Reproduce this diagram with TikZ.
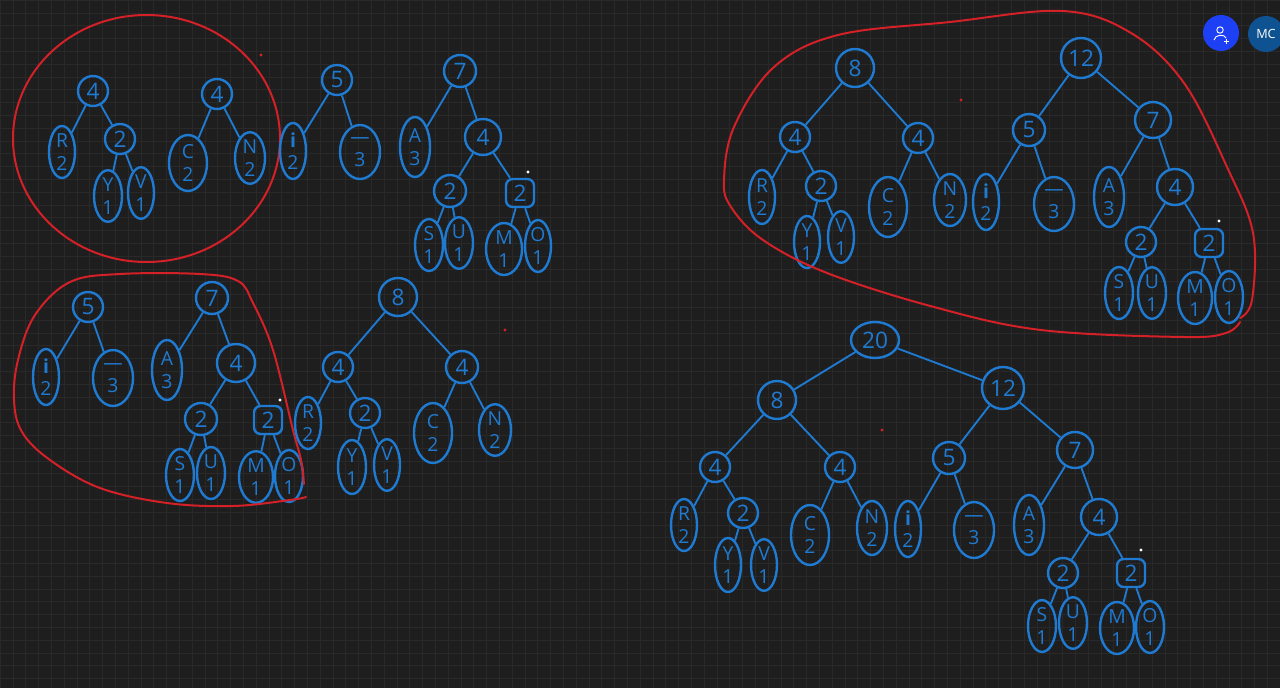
\documentclass[tikz,border=0pt]{standalone}
\usepackage{fontspec}
\setmainfont{Open Sans}
\usetikzlibrary{shapes.geometric}
\definecolor{bg}{HTML}{1E1E1E}
\definecolor{gridc}{HTML}{292929}
\definecolor{inkblue}{HTML}{1F7AD1}
\definecolor{hullred}{HTML}{D42027}
\definecolor{badgeblue}{HTML}{1E40F5}
\definecolor{mcblue}{HTML}{0F5291}
\tikzset{
  ink/.style={draw=inkblue, line width=1.8pt, text=inkblue},
  nd/.style={ink, circle, inner sep=0pt, minimum size=#1*0.75pt, font=\fontsize{17}{17}\selectfont},
  nd/.default=30,
  sq/.style={ink, rectangle, rounded corners=5pt, inner sep=0pt, minimum size=28*0.75pt, font=\fontsize{17}{17}\selectfont},
  lf/.style 2 args={ink, ellipse, inner sep=0pt, minimum width=#1*0.75pt, minimum height=#2*0.75pt, align=center, font=\fontsize{14.5}{17}\selectfont},
  ed/.style={draw=inkblue, line width=1.4pt},
  hull/.style={draw=hullred, line width=1.5pt, line join=round, line cap=round},
  speck/.style={circle, inner sep=0pt, minimum size=2.5pt},
}
\begin{document}
\begin{tikzpicture}[x=0.75pt, y=-0.75pt]
\useasboundingbox (0,0) rectangle (1280,688);
\fill[bg] (0,0) rectangle (1280,688);
\foreach \gx in {0,12.8,...,1280} \draw[gridc, line width=0.4pt] (\gx,0) -- (\gx,688);
\foreach \gy in {0,12.8,...,688} \draw[gridc, line width=0.4pt] (0,\gy) -- (1280,\gy);

% ---------- Tree A (top-left, circled) ----------
\node[nd] (a4) at (93,91) {4};
\node[lf={26}{52}] (aR) at (62,152) {R\\2};
\node[nd] (a2) at (120,139) {2};
\node[lf={28}{48}] (aY) at (108,196) {Y\\1};
\node[lf={26}{42}] (aV) at (141,193) {V\\1};
\node[nd] (a4b) at (217,94) {4};
\node[lf={38}{56}] (aC) at (188,163) {C\\2};
\node[lf={30}{46}] (aN) at (250,158) {N\\2};
\draw[ed] (a4) -- (aR); \draw[ed] (a4) -- (a2);
\draw[ed] (a2) -- (aY); \draw[ed] (a2) -- (aV);
\draw[ed] (a4b) -- (aC); \draw[ed] (a4b) -- (aN);
\draw[hull] (146.5,138.5) ellipse [x radius=133.5, y radius=123.5];

% ---------- Tree B (5) ----------
\node[nd] (b5) at (337,80) {5};
\node[lf={26}{56}] (bI) at (293,151) {\bfseries i\\2};
\node[lf={40}{54}] (bS) at (360,152) {—\\3};
\draw[ed] (b5) -- (bI); \draw[ed] (b5) -- (bS);

% ---------- Tree C (7) ----------
\node[nd=32] (c7) at (460,71) {7};
\node[lf={30}{60}] (cA) at (415,147) {A\\3};
\node[nd=36] (c4) at (483,137) {4};
\node[nd=32] (c2) at (450,191) {2};
\node[sq] (c2b) at (520,193) {2};
\node[lf={28}{50}] (cS) at (429,245) {S\\1};
\node[lf={28}{50}] (cU) at (459,243) {U\\1};
\node[lf={36}{52}] (cM) at (504,249) {M\\1};
\node[lf={26}{48}] (cO) at (538,246) {O\\1};
\draw[ed] (c7) -- (cA); \draw[ed] (c7) -- (c4);
\draw[ed] (c4) -- (c2); \draw[ed] (c4) -- (c2b);
\draw[ed] (c2) -- (cS); \draw[ed] (c2) -- (cU);
\draw[ed] (c2b) -- (cM); \draw[ed] (c2b) -- (cO);

% ---------- Tree G (bottom-left, enclosed) ----------
\node[nd] (g5) at (88,307) {5};
\node[lf={26}{56}] (gI) at (46,377) {\bfseries i\\2};
\node[lf={40}{56}] (gS) at (113,378) {—\\3};
\node[nd=32] (g7) at (212,298) {7};
\node[lf={30}{60}] (gA) at (167,370) {A\\3};
\node[nd=38] (g4) at (236,363) {4};
\node[nd=32] (g2) at (201,419) {2};
\node[sq] (g2b) at (268,420) {2};
\node[lf={28}{52}] (gSs) at (180,475) {S\\1};
\node[lf={28}{52}] (gU) at (211,473) {U\\1};
\node[lf={34}{50}] (gM) at (256,477) {M\\1};
\node[lf={28}{50}] (gO) at (289,476) {O\\1};
\draw[ed] (g5) -- (gI); \draw[ed] (g5) -- (gS);
\draw[ed] (g7) -- (gA); \draw[ed] (g7) -- (g4);
\draw[ed] (g4) -- (g2); \draw[ed] (g4) -- (g2b);
\draw[ed] (g2) -- (gSs); \draw[ed] (g2) -- (gU);
\draw[ed] (g2b) -- (gM); \draw[ed] (g2b) -- (gO);
\draw[hull] plot[smooth, tension=0.6] coordinates {(304,484) (301,460) (293,430) (273,350) (253,303) (238,281) (200,274) (120,274) (70,282) (35,315) (18,360) (14,400) (22,432) (50,460) (100,488) (167,503) (233,506) (290,500) (306,497)};

% ---------- Tree D (8, middle) ----------
\node[nd=38] (d8) at (398,297) {8};
\node[nd] (d4) at (338,367) {4};
\node[nd=32] (d4b) at (462,367) {4};
\node[lf={26}{52}] (dR) at (308,423) {R\\2};
\node[nd] (d2) at (365,413) {2};
\node[lf={28}{54}] (dY) at (352,467) {Y\\1};
\node[lf={26}{44}] (dV) at (387,465) {V\\1};
\node[lf={38}{60}] (dC) at (433,433) {C\\2};
\node[lf={32}{50}] (dN) at (495,430) {N\\2};
\draw[ed] (d8) -- (d4); \draw[ed] (d8) -- (d4b);
\draw[ed] (d4) -- (dR); \draw[ed] (d4) -- (d2);
\draw[ed] (d2) -- (dY); \draw[ed] (d2) -- (dV);
\draw[ed] (d4b) -- (dC); \draw[ed] (d4b) -- (dN);

% ---------- Tree E (8 + 12, top-right, enclosed) ----------
\node[nd=38] (e8) at (855,68) {8};
\node[nd] (e4) at (795,137) {4};
\node[lf={26}{54}] (eR) at (762,197) {R\\2};
\node[nd] (e2) at (821,186) {2};
\node[lf={26}{52}] (eY) at (807,242) {Y\\1};
\node[lf={26}{44}] (eV) at (841,237) {V\\1};
\node[nd] (e4b) at (918,138) {4};
\node[lf={38}{60}] (eC) at (888,207) {C\\2};
\node[lf={32}{52}] (eN) at (950,200) {N\\2};
\node[nd=40] (e12) at (1081,58) {12};
\node[nd=32] (e5) at (1029,130) {5};
\node[lf={26}{56}] (eI) at (986,202) {\bfseries i\\2};
\node[lf={40}{54}] (eS) at (1054,204) {—\\3};
\node[nd=36] (e7) at (1153,120) {7};
\node[lf={30}{60}] (eA) at (1109,197) {A\\3};
\node[nd=36] (e4c) at (1175,187) {4};
\node[nd] (e2b) at (1141,242) {2};
\node[sq] (e2c) at (1209,243) {2};
\node[lf={28}{52}] (eSs) at (1119,293) {S\\1};
\node[lf={28}{48}] (eU) at (1152,293) {U\\1};
\node[lf={34}{52}] (eM) at (1195,298) {M\\1};
\node[lf={28}{48}] (eO) at (1229,297) {O\\1};
\draw[ed] (e8) -- (e4); \draw[ed] (e8) -- (e4b);
\draw[ed] (e4) -- (eR); \draw[ed] (e4) -- (e2);
\draw[ed] (e2) -- (eY); \draw[ed] (e2) -- (eV);
\draw[ed] (e4b) -- (eC); \draw[ed] (e4b) -- (eN);
\draw[ed] (e12) -- (e5); \draw[ed] (e12) -- (e7);
\draw[ed] (e5) -- (eI); \draw[ed] (e5) -- (eS);
\draw[ed] (e7) -- (eA); \draw[ed] (e7) -- (e4c);
\draw[ed] (e4c) -- (e2b); \draw[ed] (e4c) -- (e2c);
\draw[ed] (e2b) -- (eSs); \draw[ed] (e2b) -- (eU);
\draw[ed] (e2c) -- (eM); \draw[ed] (e2c) -- (eO);
\draw[hull] plot[smooth, tension=0.6] coordinates {(1240,318) (1252,300) (1253,233) (1227,167) (1184,83) (1131,33) (1063,11) (950,22) (838,35) (774,67) (734,127) (724,180) (731,207) (763,240) (827,273) (934,307) (1041,330) (1184,337) (1226,333) (1240,322)};

% ---------- Tree F (20, bottom-right) ----------
\node[nd, ellipse, minimum width=48*0.75pt, minimum height=36*0.75pt] (f20) at (875,340) {20};
\node[nd=38] (f8) at (777,400) {8};
\node[nd] (f4) at (715,467) {4};
\node[lf={26}{52}] (fR) at (684,525) {R\\2};
\node[nd] (f2) at (743,513) {2};
\node[lf={26}{54}] (fY) at (728,565) {Y\\1};
\node[lf={26}{44}] (fV) at (764,565) {V\\1};
\node[nd] (f4b) at (840,467) {4};
\node[lf={38}{60}] (fC) at (810,535) {C\\2};
\node[lf={30}{54}] (fN) at (872,528) {N\\2};
\node[nd=42] (f12) at (1003,388) {12};
\node[nd=32] (f5) at (949,458) {5};
\node[lf={26}{56}] (fI) at (908,529) {\bfseries i\\2};
\node[lf={40}{56}] (fS) at (974,530) {—\\3};
\node[nd=36] (f7) at (1075,450) {7};
\node[lf={30}{60}] (fA) at (1029,525) {A\\3};
\node[nd=36] (f4c) at (1099,517) {4};
\node[nd] (f2b) at (1063,573) {2};
\node[sq] (f2c) at (1131,573) {2};
\node[lf={28}{50}] (fSs) at (1042,626) {S\\1};
\node[lf={28}{48}] (fU) at (1073,623) {U\\1};
\node[lf={34}{52}] (fM) at (1117,628) {M\\1};
\node[lf={28}{50}] (fO) at (1150,627) {O\\1};
\draw[ed] (f20) -- (f8); \draw[ed] (f20) -- (f12);
\draw[ed] (f8) -- (f4); \draw[ed] (f8) -- (f4b);
\draw[ed] (f4) -- (fR); \draw[ed] (f4) -- (f2);
\draw[ed] (f2) -- (fY); \draw[ed] (f2) -- (fV);
\draw[ed] (f4b) -- (fC); \draw[ed] (f4b) -- (fN);
\draw[ed] (f12) -- (f5); \draw[ed] (f12) -- (f7);
\draw[ed] (f5) -- (fI); \draw[ed] (f5) -- (fS);
\draw[ed] (f7) -- (fA); \draw[ed] (f7) -- (f4c);
\draw[ed] (f4c) -- (f2b); \draw[ed] (f4c) -- (f2c);
\draw[ed] (f2b) -- (fSs); \draw[ed] (f2b) -- (fU);
\draw[ed] (f2c) -- (fM); \draw[ed] (f2c) -- (fO);

% ---------- specks ----------
\foreach \p in {(261,55),(961,100),(505,330),(882,430)} \node[speck, fill=hullred] at \p {};
\foreach \p in {(528,172),(280,400),(1219,221),(1141,550)} \node[speck, fill=white] at \p {};

% ---------- badges ----------
\node[circle, fill=badgeblue, minimum size=36*0.75pt, inner sep=0pt] (invite) at (1221,33) {};
\draw[white, line width=0.7pt] (1220,30) circle [radius=3.2];
\draw[white, line width=0.7pt] (1214,40) .. controls (1215,34) and (1225,34) .. (1226,38);
\draw[white, line width=0.7pt] (1226,39) -- (1226,44) (1223.5,41.5) -- (1228.5,41.5);
\node[circle, fill=mcblue, minimum size=36*0.75pt, inner sep=0pt, text=white, font=\fontsize{9.5}{10}\selectfont] (mc) at (1266,34) {MC};
\end{tikzpicture}
\end{document}
